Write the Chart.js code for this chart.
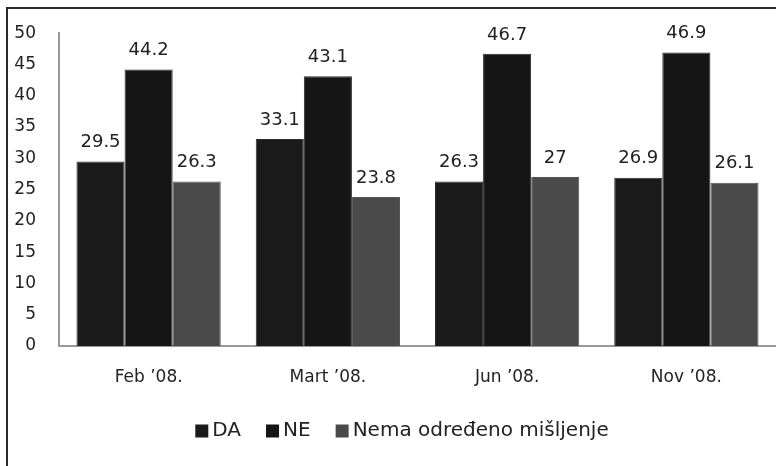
<!DOCTYPE html>
<html>
<head>
<meta charset="utf-8">
<script src="https://cdn.jsdelivr.net/npm/chart.js@4"></script>
<style>
  html, body { margin: 0; padding: 0; background: #fff; }
  #frame {
    position: absolute; left: 6px; top: 7px; width: 770px; height: 459px;
    border-top: 2px solid #2a2a2a; border-left: 2px solid #2a2a2a;
  }
  #wrap { position: absolute; left: 0; top: 0; width: 776px; height: 466px; }
</style>
</head>
<body>
<div id="frame"></div>
<div id="wrap"><canvas id="chart"></canvas></div>
<script>
// podaci sa grafika
const categories = ['Feb ’08.', 'Mart ’08.', 'Jun ’08.', 'Nov ’08.'];
const seriesNames = ['DA', 'NE', 'Nema određeno mišljenje'];
const daValues = [29.5, 33.1, 26.3, 26.9];
const neValues = [44.2, 43.1, 46.7, 46.9];
const nemaValues = [26.3, 23.8, 27, 26.1];
const yTicks = [0, 5, 10, 15, 20, 25, 30, 35, 40, 45, 50];

const FONT = "'DejaVu Sans', sans-serif";

// natpisi iznad stubova
const valueLabels = {
  id: 'valueLabels',
  afterDatasetsDraw(chart) {
    const ctx = chart.ctx;
    ctx.save();
    ctx.font = '18px ' + FONT;
    ctx.fillStyle = '#222';
    ctx.textAlign = 'center';
    ctx.textBaseline = 'middle';
    chart.data.datasets.forEach((ds, i) => {
      chart.getDatasetMeta(i).data.forEach((bar, j) => {
        ctx.fillText(String(ds.data[j]), bar.x, bar.y - 19);
      });
    });
    ctx.restore();
  }
};

// legenda ispod grafika (kvadratic + tekst, mali razmak)
const bottomLegend = {
  id: 'bottomLegend',
  afterDraw(chart) {
    const ctx = chart.ctx;
    const box = 13, gap = 4, spacing = 25;
    ctx.save();
    ctx.font = '20px ' + FONT;
    const items = chart.data.datasets.map(ds => ({
      text: ds.label, color: ds.backgroundColor, w: ctx.measureText(ds.label).width
    }));
    const total = items.reduce((s, it) => s + box + gap + it.w, 0) + spacing * (items.length - 1);
    const cy = 431;
    let x = 402 - total / 2;
    ctx.textBaseline = 'middle';
    items.forEach(it => {
      ctx.fillStyle = it.color;
      ctx.fillRect(x, cy - box / 2, box, box);
      ctx.fillStyle = '#222';
      ctx.fillText(it.text, x + box + gap, cy);
      x += box + gap + it.w + spacing;
    });
    ctx.restore();
  }
};

const ctx = document.getElementById('chart').getContext('2d');
new Chart(ctx, {
  type: 'bar',
  data: {
    labels: categories,
    datasets: [
      { label: seriesNames[0], data: daValues, backgroundColor: '#1a1a1a', borderColor: '#2e2e2e', borderWidth: 1 },
      { label: seriesNames[1], data: neValues, backgroundColor: '#151515', borderColor: '#2a2a2a', borderWidth: 1 },
      { label: seriesNames[2], data: nemaValues, backgroundColor: '#4a4a4a', borderColor: '#555', borderWidth: 1 }
    ]
  },
  options: {
    responsive: true,
    maintainAspectRatio: false,
    animation: false,
    layout: { padding: { top: 29, right: 0, left: 0, bottom: 63 } },
    datasets: { bar: { categoryPercentage: 0.805, barPercentage: 1 } },
    plugins: {
      tooltip: { enabled: false },
      legend: { display: false }
    },
    scales: {
      x: {
        grid: { display: false, drawTicks: false },
        border: { display: true, color: '#999', width: 2 },
        ticks: { font: { family: FONT, size: 17 }, color: '#222', padding: 21 },
        afterFit(scale) { scale.height = 57; }
      },
      y: {
        min: 0,
        max: 50,
        afterBuildTicks(scale) { scale.ticks = yTicks.map(v => ({ value: v })); },
        grid: { display: false, drawTicks: false },
        border: { display: true, color: '#999', width: 2 },
        ticks: { font: { family: FONT, size: 17 }, color: '#222', padding: 23 },
        afterFit(scale) { scale.width = 59; }
      }
    }
  },
  plugins: [valueLabels, bottomLegend]
});
</script>
</body>
</html>
